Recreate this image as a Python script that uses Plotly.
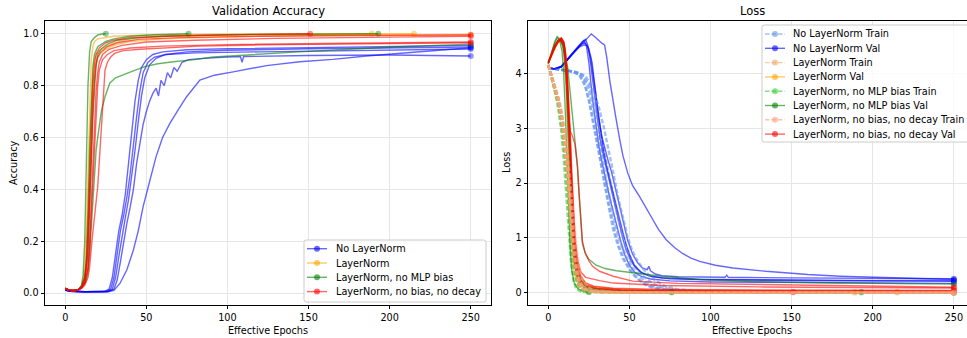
import plotly.graph_objects as go

W, H = 967, 338

# ---------------- tick labels / text ----------------
X_TICKS = [0, 50, 100, 150, 200, 250]
ACC_TICKS = [0.0, 0.2, 0.4, 0.6, 0.8, 1.0]
LOSS_TICKS = [0, 1, 2, 3, 4]
GROUPS = ["No LayerNorm", "LayerNorm", "LayerNorm, no MLP bias", "LayerNorm, no bias, no decay"]

# ---------------- validation accuracy: runs of [epoch, accuracy] ----------------
ACC_NOLN = [
    [[0,.012],[3,.007],[12,.005],[24,.006],[27,.015],[29,.06],[31,.15],[33,.24],[35,.3],[37,.38],[39,.5],[41,.62],[43,.74],[45,.82],[47,.87],[50,.9],[54,.92],[60,.93],[75,.938],[100,.942],[150,.947],[200,.951],[250,.955]],
    [[0,.012],[3,.007],[12,.005],[26,.006],[29,.015],[31,.06],[33,.14],[35,.22],[37,.29],[39,.36],[41,.45],[43,.55],[45,.66],[47,.76],[49,.83],[52,.88],[56,.905],[62,.92],[75,.93],[100,.936],[150,.942],[200,.946],[250,.949]],
    [[0,.012],[3,.007],[12,.005],[27,.006],[30,.015],[32,.05],[34,.12],[36,.2],[38,.27],[40,.33],[42,.4],[44,.5],[46,.58],[48,.65],[50,.7],[52,.74],[54,.77],[56,.79],[57.5,.76],[59,.82],[61,.8],[63,.85],[65,.83],[67,.87],[69,.855],[72,.89],[76,.9],[85,.905],[100,.91],[108,.912],[109,.89],[110,.912],[150,.916],[200,.918],[250,.914]],
    [[0,.012],[3,.007],[12,.005],[25,.006],[28,.015],[30,.06],[32,.15],[34,.24],[36,.3],[38,.37],[40,.46],[42,.58],[44,.68],[46,.78],[48,.85],[51,.89],[55,.91],[62,.92],[80,.926],[120,.93],[180,.935],[250,.941]],
    [[0,.012],[3,.007],[12,.005],[26,.005],[30,.01],[33.7,.037],[38,.09],[42,.166],[45,.24],[48,.333],[52,.43],[56,.526],[60,.6],[64.5,.654],[70,.71],[74.8,.757],[83,.821],[92,.84],[103.5,.853],[124,.877],[144.6,.892],[165,.901],[185.7,.914],[206,.924],[227,.937],[250,.946]],
]
ACC_LN = [
    [[0,.018],[2,.012],[4,.01],[6,.01],[8,.013],[10,.025],[11,.05],[12,.1],[13,.25],[14,.5],[15,.75],[16,.9],[17,.95],[18,.97],[20,.98],[25,.985],[30,.99],[50,.995],[100,.998],[189,1.0]],
    [[0,.018],[2,.012],[4,.01],[6,.01],[8,.013],[10,.025],[11,.04],[12,.07],[13,.15],[14,.3],[15,.5],[16,.7],[17,.84],[18,.9],[19,.92],[21,.935],[25,.95],[30,.965],[40,.98],[60,.99],[100,.995],[150,.998],[215,1.0]],
    [[0,.018],[2,.012],[4,.01],[6,.01],[8,.013],[10,.022],[11,.04],[13,.1],[14,.2],[15,.38],[16,.58],[17,.75],[18,.85],[19,.89],[21,.92],[25,.94],[30,.955],[40,.97],[60,.98],[100,.988],[150,.993],[200,.995],[250,.997]],
]
ACC_NOMLP = [
    [[0,.02],[2,.012],[4,.01],[6,.01],[8,.012],[10,.03],[11,.07],[12,.2],[13,.5],[14,.8],[15,.93],[16,.97],[18,.985],[20,.995],[22,.998],[25,1.0]],
    [[0,.018],[2,.012],[5,.01],[8,.013],[10,.025],[12,.06],[13,.13],[14,.3],[15,.55],[16,.75],[17,.87],[18,.92],[20,.95],[25,.97],[30,.98],[40,.99],[55,.996],[76,1.0]],
    [[0,.018],[2,.012],[5,.01],[8,.013],[10,.025],[12,.05],[14,.15],[15,.3],[16,.5],[17,.68],[18,.8],[19,.88],[20,.92],[22,.94],[26,.96],[32,.975],[45,.985],[70,.992],[120,.997],[193,1.0]],
    [[0,.018],[2,.012],[5,.01],[8,.012],[10,.02],[12,.035],[13,.05],[14,.08],[15,.15],[16,.26],[17,.38],[18,.47],[19,.55],[20,.6],[21,.65],[22.4,.706],[24.5,.757],[27.5,.81],[31,.83],[34.7,.84],[40,.852],[49,.873],[57,.884],[66.6,.892],[80,.9],[91,.91],[110,.918],[144,.93],[175,.94],[206,.95],[250,.96]],
]
ACC_NOBIAS = [
    [[0,.018],[2,.012],[4,.01],[6,.01],[8,.013],[10,.025],[12,.06],[13,.12],[14,.25],[15,.45],[16,.65],[17,.8],[18,.88],[19,.92],[21,.945],[25,.965],[30,.975],[40,.985],[60,.99],[100,.996],[151,1.0]],
    [[0,.018],[2,.012],[4,.01],[6,.01],[8,.013],[10,.022],[12,.045],[13,.09],[14,.18],[15,.33],[16,.52],[17,.7],[18,.82],[19,.88],[20,.91],[22,.93],[26,.95],[32,.965],[45,.978],[70,.985],[120,.99],[180,.993],[250,.995]],
    [[0,.018],[2,.012],[4,.01],[6,.01],[8,.013],[10,.02],[12,.04],[14,.1],[15,.2],[16,.35],[17,.52],[18,.67],[19,.78],[20,.85],[21,.89],[23,.92],[27,.94],[35,.955],[50,.968],[80,.975],[130,.982],[200,.987],[250,.99]],
    [[0,.018],[2,.012],[4,.01],[6,.01],[8,.013],[10,.02],[12,.04],[14,.09],[15,.17],[16,.3],[17,.45],[18,.6],[19,.72],[20,.8],[21,.86],[23,.9],[26,.92],[30,.935],[40,.945],[60,.952],[100,.958],[150,.962],[200,.965],[250,.968]],
    [[0,.018],[2,.012],[4,.01],[6,.01],[8,.012],[10,.018],[12,.03],[14,.06],[15,.1],[16.6,.21],[18,.3],[20,.41],[21.2,.53],[22.4,.667],[23.5,.78],[24.5,.86],[26,.89],[28,.91],[30.6,.925],[36,.935],[46,.94],[60,.945],[83,.952],[120,.957],[180,.961],[250,.965]],
]

# ---------------- training loss: runs of [epoch, loss] ----------------
TRAIN_NOLN = [
    [[0,4.1],[5,4.08],[10,4.06],[15,4.03],[19,3.98],[22,3.85],[25,3.5],[28,3.05],[31,2.6],[34,2.1],[37,1.6],[40,1.15],[43,0.85],[46,0.62],[50,0.42],[54,0.28],[58,0.18],[63,0.1],[70,0.05],[80,0.025],[100,0.012],[150,0.006],[250,0.003]],
    [[0,4.1],[5,4.08],[10,4.06],[15,4.04],[20,3.98],[24,3.8],[27,3.45],[30,3.0],[33,2.5],[36,2.0],[39,1.55],[42,1.15],[45,0.88],[48,0.66],[52,0.45],[56,0.3],[60,0.2],[65,0.12],[72,0.06],[85,0.025],[110,0.012],[250,0.004]],
    [[0,4.1],[5,4.08],[10,4.06],[16,4.03],[21,3.97],[25,3.8],[28,3.5],[31,3.1],[34,2.65],[37,2.2],[40,1.75],[43,1.35],[46,1.02],[49,0.75],[52,0.55],[56,0.38],[60,0.26],[65,0.16],[72,0.08],[85,0.03],[120,0.012],[250,0.005]],
    [[0,4.1],[5,4.08],[10,4.06],[15,4.03],[19,3.97],[23,3.75],[26,3.4],[29,2.95],[32,2.45],[35,1.95],[38,1.5],[41,1.12],[44,0.82],[47,0.6],[51,0.4],[55,0.26],[60,0.15],[66,0.08],[75,0.04],[90,0.018],[130,0.008],[250,0.003]],
    [[0,4.1],[6,4.08],[12,4.05],[18,4.02],[23,3.95],[27,3.75],[31,3.4],[34,3.05],[37,2.65],[40,2.2],[43,1.75],[46,1.35],[49,1.0],[52,0.75],[55,0.58],[58,0.45],[62,0.32],[66,0.22],[72,0.12],[80,0.06],[95,0.025],[130,0.01],[250,0.004]],
]
TRAIN_LN = [
    [[0,4.15],[2,3.93],[4,3.72],[6,3.45],[8,3.1],[10,2.55],[11.5,1.95],[13,1.3],[14.5,0.75],[16,0.38],[17.5,0.17],[19,0.08],[21,0.035],[25,0.013],[35,0.005],[189,0.002]],
    [[0,4.15],[2,3.95],[4,3.75],[6,3.5],[8,3.2],[10,2.7],[11.5,2.2],[13,1.6],[14.5,1.05],[16,0.6],[17.5,0.3],[19,0.15],[21,0.07],[24,0.03],[30,0.012],[50,0.005],[215,0.002]],
    [[0,4.15],[2,3.96],[4,3.78],[6,3.55],[8,3.28],[10,2.85],[11.5,2.4],[13,1.85],[14.5,1.3],[16,0.8],[17.5,0.45],[19,0.24],[21,0.11],[24,0.045],[30,0.015],[50,0.006],[250,0.003]],
]
TRAIN_NOMLP = [
    [[0,4.16],[2,3.92],[4,3.68],[6,3.38],[8,2.95],[9.5,2.45],[11,1.8],[12.5,1.1],[14,0.55],[15.5,0.22],[17,0.09],[19,0.035],[22,0.012],[25,0.006]],
    [[0,4.15],[2,3.94],[4,3.73],[6,3.47],[8,3.15],[10,2.6],[11.5,2.05],[13,1.4],[14.5,0.85],[16,0.45],[17.5,0.21],[19,0.1],[21,0.045],[25,0.015],[35,0.006],[76,0.003]],
    [[0,4.15],[2,3.95],[4,3.76],[6,3.52],[8,3.22],[10,2.75],[11.5,2.28],[13,1.7],[14.5,1.12],[16,0.65],[17.5,0.33],[19,0.16],[21,0.075],[24,0.03],[30,0.012],[50,0.005],[193,0.002]],
    [[0,4.15],[2,3.96],[4,3.79],[6,3.57],[8,3.3],[10,2.9],[11.5,2.5],[13,2.0],[14.5,1.5],[16,1.0],[17.5,0.6],[19,0.35],[21,0.18],[24,0.08],[30,0.03],[45,0.012],[80,0.006],[250,0.003]],
]
TRAIN_NOBIAS = [
    [[0,4.15],[2,3.94],[4,3.74],[6,3.48],[8,3.17],[10,2.65],[11.5,2.12],[13,1.5],[14.5,0.95],[16,0.52],[17.5,0.26],[19,0.12],[21,0.055],[24,0.022],[32,0.008],[151,0.002]],
    [[0,4.15],[2,3.95],[4,3.76],[6,3.52],[8,3.23],[10,2.78],[11.5,2.3],[13,1.72],[14.5,1.15],[16,0.68],[17.5,0.36],[19,0.18],[21,0.085],[24,0.035],[30,0.013],[50,0.005],[250,0.002]],
    [[0,4.15],[2,3.96],[4,3.77],[6,3.54],[8,3.26],[10,2.82],[11.5,2.36],[13,1.8],[14.5,1.24],[16,0.75],[17.5,0.41],[19,0.21],[21,0.1],[24,0.04],[30,0.015],[50,0.006],[250,0.002]],
    [[0,4.15],[2,3.96],[4,3.78],[6,3.56],[8,3.29],[10,2.88],[11.5,2.45],[13,1.92],[14.5,1.36],[16,0.86],[17.5,0.48],[19,0.26],[21,0.13],[24,0.055],[30,0.02],[50,0.007],[250,0.003]],
    [[0,4.15],[2,3.97],[4,3.8],[6,3.6],[8,3.35],[10,3.0],[11.5,2.65],[13,2.2],[14.5,1.7],[16,1.2],[17.5,0.78],[19,0.47],[21,0.25],[24,0.11],[28,0.045],[40,0.015],[80,0.006],[250,0.003]],
]

# ---------------- validation loss: runs of [epoch, loss] ----------------
VAL_NOLN = [
    [[0,4.1],[4,4.08],[8,4.12],[12,4.25],[16,4.4],[19,4.5],[21,4.58],[22,4.6],[23.5,4.5],[25,4.2],[27,3.6],[29,3.1],[31,2.7],[33,2.4],[35,2.1],[37,1.85],[39,1.6],[41,1.35],[43,1.1],[45,0.9],[47,0.7],[50,0.5],[53,0.38],[57,0.3],[63,0.25],[75,0.215],[100,0.195],[150,0.185],[200,0.177],[250,0.17]],
    [[0,4.1],[4,4.08],[8,4.13],[12,4.27],[16,4.42],[19,4.52],[21,4.58],[23,4.62],[24.5,4.5],[26,4.2],[28,3.7],[30,3.2],[32,2.8],[34,2.5],[36,2.25],[38,2.0],[40,1.75],[42,1.5],[44,1.22],[46,0.98],[48,0.78],[51,0.58],[54,0.45],[58,0.35],[64,0.29],[75,0.255],[100,0.235],[150,0.22],[200,0.212],[250,0.206]],
    [[0,4.1],[4,4.08],[8,4.12],[12,4.26],[16,4.41],[19,4.5],[21.5,4.55],[23,4.55],[25,4.45],[27,4.2],[29,3.7],[31,3.2],[33,2.85],[35,2.6],[37,2.4],[39,2.2],[41,1.95],[43,1.7],[45,1.4],[47,1.15],[49,0.95],[52,0.7],[55,0.55],[58,0.45],[61,0.42],[62,0.48],[63,0.4],[66,0.34],[70,0.31],[80,0.29],[100,0.28],[109,0.28],[110,0.32],[111,0.28],[150,0.27],[200,0.262],[250,0.255]],
    [[0,4.1],[4,4.08],[8,4.12],[12,4.26],[16,4.4],[19,4.48],[22,4.52],[24,4.5],[26,4.3],[28,3.9],[30,3.45],[32,3.0],[34,2.6],[36,2.3],[38,2.05],[40,1.8],[42,1.58],[44,1.35],[46,1.1],[48,0.88],[50,0.7],[53,0.5],[57,0.38],[62,0.31],[70,0.27],[90,0.245],[130,0.235],[190,0.225],[250,0.22]],
    [[0,4.1],[4,4.08],[8,4.12],[12,4.25],[16,4.38],[20,4.5],[23,4.6],[26.5,4.72],[29,4.66],[31,4.6],[33,4.55],[34.7,4.52],[36,4.3],[38,3.85],[40,3.45],[41.9,3.15],[44,2.8],[46,2.5],[49,2.18],[52,1.95],[56.3,1.75],[60,1.55],[64.5,1.33],[68,1.15],[72.7,0.965],[78,0.82],[83,0.71],[88,0.63],[93.3,0.57],[103,0.5],[113.8,0.45],[134,0.39],[160,0.33],[180,0.3],[210,0.27],[250,0.24]],
]
VAL_LN = [
    [[0,4.18],[2,4.32],[4,4.45],[6,4.56],[7.5,4.6],[9,4.52],[10,4.3],[11,3.8],[12,2.9],[13,1.9],[14,1.1],[15,0.6],[16,0.35],[18,0.18],[21,0.1],[25,0.06],[35,0.035],[60,0.02],[120,0.012],[189,0.008]],
    [[0,4.18],[2,4.32],[4,4.46],[6,4.56],[8,4.6],[9.5,4.52],[10.5,4.3],[11.5,3.85],[12.5,3.1],[13.5,2.2],[14.5,1.4],[15.5,0.85],[16.5,0.5],[18,0.3],[20,0.18],[24,0.11],[30,0.075],[45,0.045],[80,0.025],[150,0.015],[215,0.012]],
    [[0,4.18],[2,4.33],[4,4.47],[6,4.57],[8.5,4.62],[10,4.5],[11,4.25],[12,3.8],[13,3.1],[14,2.3],[15,1.6],[16,1.05],[17,0.68],[18.5,0.42],[20,0.28],[23,0.17],[28,0.11],[40,0.07],[70,0.045],[120,0.032],[180,0.025],[250,0.02]],
]
VAL_NOMLP = [
    [[0,4.2],[2,4.38],[4,4.55],[5.5,4.65],[7,4.6],[8.5,4.4],[9.5,4.0],[10.5,3.3],[11.5,2.4],[12.5,1.5],[13.5,0.8],[14.5,0.4],[16,0.18],[18,0.08],[21,0.035],[25,0.015]],
    [[0,4.18],[2,4.35],[4,4.5],[6,4.6],[7.5,4.62],[9,4.5],[10,4.25],[11,3.8],[12,3.1],[13,2.3],[14,1.5],[15,0.9],[16,0.55],[17.5,0.3],[19,0.18],[22,0.1],[27,0.06],[35,0.035],[50,0.02],[76,0.012]],
    [[0,4.18],[2,4.34],[4,4.48],[6,4.58],[8,4.62],[9.5,4.52],[10.5,4.3],[11.5,3.9],[12.5,3.2],[13.5,2.45],[14.5,1.7],[15.5,1.1],[16.5,0.7],[18,0.4],[20,0.22],[23,0.13],[28,0.08],[40,0.045],[70,0.028],[120,0.018],[193,0.012]],
    [[0,4.18],[2,4.4],[4,4.58],[5.5,4.67],[7,4.63],[9,4.5],[10.5,4.3],[12,4.1],[13,3.8],[14,3.5],[15,3.2],[16,2.9],[17,2.6],[18,2.3],[19,1.8],[20,1.3],[21,0.9],[23,0.7],[25,0.61],[29.5,0.5],[35,0.44],[42,0.4],[52,0.36],[70,0.3],[93,0.24],[130,0.2],[180,0.175],[250,0.155]],
]
VAL_NOBIAS = [
    [[0,4.2],[2,4.35],[4,4.48],[6,4.57],[8,4.62],[9.5,4.53],[10.5,4.3],[11.5,3.85],[12.5,3.1],[13.5,2.25],[14.5,1.45],[15.5,0.9],[16.5,0.55],[18,0.3],[20,0.18],[24,0.1],[30,0.065],[45,0.04],[80,0.022],[151,0.012]],
    [[0,4.2],[2,4.36],[4,4.5],[6,4.59],[8,4.64],[9.5,4.56],[10.5,4.35],[11.5,3.95],[12.5,3.3],[13.5,2.5],[14.5,1.7],[15.5,1.1],[16.5,0.7],[18,0.4],[20,0.23],[24,0.13],[30,0.085],[45,0.055],[80,0.04],[150,0.034],[250,0.03]],
    [[0,4.2],[2,4.36],[4,4.5],[6,4.6],[8,4.65],[9.5,4.58],[10.5,4.4],[11.5,4.05],[12.5,3.5],[13.5,2.8],[14.5,2.0],[15.5,1.35],[16.5,0.9],[18,0.52],[20,0.3],[23,0.18],[28,0.12],[40,0.08],[70,0.06],[130,0.048],[250,0.04]],
    [[0,4.2],[2,4.35],[4,4.5],[6,4.6],[8,4.64],[9.5,4.58],[10.5,4.42],[11.5,4.1],[12.5,3.6],[13.5,2.95],[14.5,2.2],[15.5,1.5],[16.5,1.0],[18,0.6],[20,0.38],[23,0.28],[28,0.24],[31.6,0.22],[40,0.175],[70,0.13],[130,0.105],[200,0.093],[250,0.085]],
    [[0,4.2],[3,4.4],[6,4.58],[8,4.6],[9.5,4.5],[10.5,4.2],[11.5,3.7],[12.5,3.2],[13.5,2.95],[15,2.85],[16.5,2.7],[18,2.3],[19,1.8],[20,1.3],[21,0.95],[22.5,0.75],[25,0.58],[27.3,0.48],[31.6,0.39],[40,0.3],[52,0.21],[80,0.17],[134,0.146],[190,0.12],[250,0.1]],
]

ACC_RUNS = [ACC_NOLN, ACC_LN, ACC_NOMLP, ACC_NOBIAS]
TRAIN_RUNS = [TRAIN_NOLN, TRAIN_LN, TRAIN_NOMLP, TRAIN_NOBIAS]
VAL_RUNS = [VAL_NOLN, VAL_LN, VAL_NOMLP, VAL_NOBIAS]

# ---------------- styles ----------------
VAL_COLORS = ["rgba(0,0,255,0.6)", "rgba(255,165,0,0.6)", "rgba(0,128,0,0.6)", "rgba(255,0,0,0.6)"]
TRAIN_COLORS = ["rgba(100,149,237,0.6)", "rgba(244,164,96,0.6)", "rgba(50,205,50,0.6)", "rgba(255,160,122,0.6)"]
FONT = "DejaVu Sans"
FS = 9.7
LW = 1.4
DASH = "4.5px,2px"
MS = 6

fig = go.Figure()


def add_run(run, color, xa, ya, dash="solid", width=LW):
    xs = [p[0] for p in run]
    ys = [p[1] for p in run]
    sizes = [0] * (len(xs) - 1) + [MS]
    fig.add_trace(go.Scatter(
        x=xs, y=ys, mode="lines+markers", xaxis=xa, yaxis=ya,
        line=dict(color=color, width=width, dash=dash),
        marker=dict(color=color, size=sizes, line=dict(width=0)),
        showlegend=False, hoverinfo="skip"))


for g in range(4):
    for run in ACC_RUNS[g]:
        add_run(run, VAL_COLORS[g], "x", "y")

for g in range(4):
    for tr, va in zip(TRAIN_RUNS[g], VAL_RUNS[g]):
        add_run(tr, TRAIN_COLORS[g], "x2", "y2", dash=DASH, width=2.4)
        add_run(va, VAL_COLORS[g], "x2", "y2")


def px(x):
    return x / W


def py(y):
    return 1 - y / H


shapes = []
annotations = []


def rounded_box(x0, y0, x1, y1, r=2.5):
    X0, X1 = px(x0), px(x1)
    Y0, Y1 = py(y0), py(y1)
    rx, ry = r / W, r / H
    path = (f"M {X0+rx},{Y0} L {X1-rx},{Y0} Q {X1},{Y0} {X1},{Y0-ry} "
            f"L {X1},{Y1+ry} Q {X1},{Y1} {X1-rx},{Y1} L {X0+rx},{Y1} "
            f"Q {X0},{Y1} {X0},{Y1+ry} L {X0},{Y0-ry} Q {X0},{Y0} {X0+rx},{Y0} Z")
    shapes.append(dict(type="path", xref="paper", yref="paper", path=path,
                       fillcolor="rgba(255,255,255,0.8)",
                       line=dict(color="#cccccc", width=1), layer="above"))


def legend_entry(xl0, xl1, xm, xt, y, color, label, dash="solid"):
    shapes.append(dict(type="line", xref="paper", yref="paper",
                       x0=px(xl0), x1=px(xl1), y0=py(y), y1=py(y),
                       line=dict(color=color, width=LW, dash=dash), layer="above"))
    r = MS / 2
    shapes.append(dict(type="circle", xref="paper", yref="paper",
                       x0=px(xm - r), x1=px(xm + r), y0=py(y + r), y1=py(y - r),
                       fillcolor=color, line=dict(width=0), layer="above"))
    annotations.append(dict(x=px(xt), y=py(y), xref="paper", yref="paper",
                            text=label, showarrow=False, xanchor="left", yanchor="middle",
                            borderpad=0, borderwidth=0,
                            font=dict(family=FONT, size=FS, color="black")))


# left legend
rounded_box(304, 240, 486, 302)
for i, name in enumerate(GROUPS):
    legend_entry(307, 327, 317, 336, 248.7 + 14.3 * i, VAL_COLORS[i], name)

# right legend
rounded_box(762, 25, 975, 142)
k = 0
for i, name in enumerate(GROUPS):
    legend_entry(765, 785, 775, 793, 34 + 14.3 * k, TRAIN_COLORS[i], name + " Train", dash=DASH)
    k += 1
    legend_entry(765, 785, 775, 793, 34 + 14.3 * k, VAL_COLORS[i], name + " Val")
    k += 1


def text(x, y, s, size=FS, angle=0):
    annotations.append(dict(x=px(x), y=py(y), xref="paper", yref="paper", text=s,
                            showarrow=False, xanchor="center", yanchor="middle",
                            textangle=angle, borderpad=0, borderwidth=0,
                            font=dict(family=FONT, size=size, color="black")))


text(268, 11, "Validation Accuracy", size=11.5)
text(752, 11, "Loss", size=11.5)
text(268, 330, "Effective Epochs")
text(752, 330, "Effective Epochs")
text(13, 163, "Accuracy", angle=-90)
text(506, 163, "Loss", angle=-90)

axis_common = dict(
    showline=True, linecolor="black", linewidth=0.9,
    ticks="outside", ticklen=3.5, tickwidth=0.9, tickcolor="black",
    showgrid=True, gridcolor="#e6e6e6", gridwidth=0.8, zeroline=False,
    tickfont=dict(family=FONT, size=FS, color="black"), automargin=False,
)

ydom = [py(305), py(21)]
fig.update_layout(
    width=W, height=H, margin=dict(l=0, r=0, t=0, b=0, pad=0),
    plot_bgcolor="white", paper_bgcolor="white",
    template="none",
    xaxis=dict(domain=[px(45), px(491)], range=[-12.5, 262.5], tickvals=X_TICKS,
               mirror=True, anchor="y", **axis_common),
    yaxis=dict(domain=ydom, range=[-0.046, 1.049], tickvals=ACC_TICKS, tickformat=".1f",
               mirror=True, anchor="x", **axis_common),
    xaxis2=dict(domain=[px(528), 1.0], range=[-12.5, 258.1], tickvals=X_TICKS,
                mirror=True, anchor="y2", **axis_common),
    yaxis2=dict(domain=ydom, range=[-0.225, 4.955], tickvals=LOSS_TICKS,
                mirror=False, anchor="x2", **axis_common),
    shapes=shapes, annotations=annotations, showlegend=False,
)

fig.write_html("out.html", config={"displayModeBar": False},
               post_script="document.body.style.margin='0';document.body.style.padding='0';")
